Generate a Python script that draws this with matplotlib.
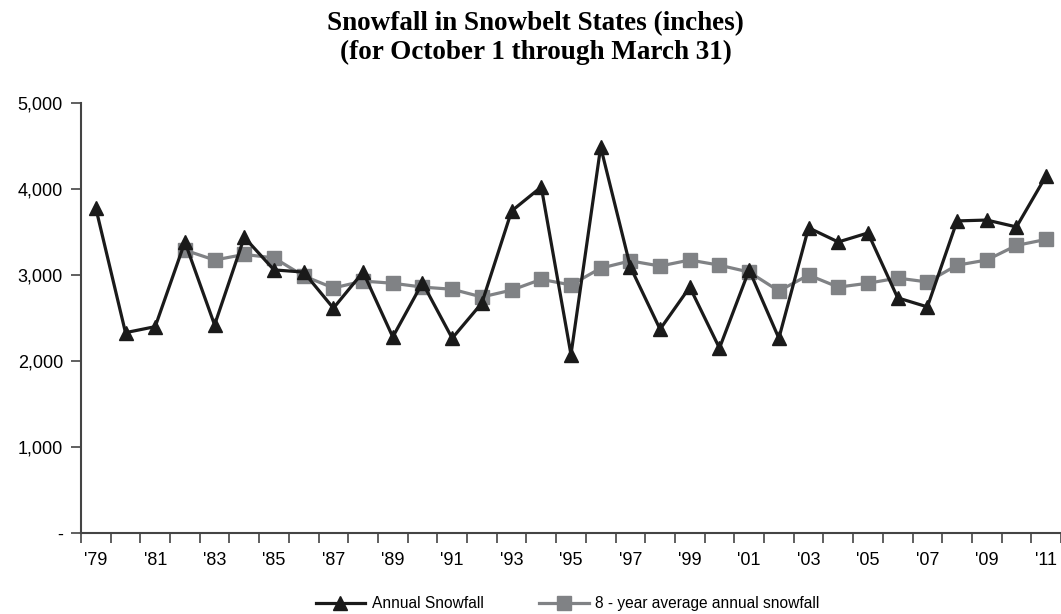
import matplotlib.pyplot as plt
import numpy as np

years = ["'79", "'80", "'81", "'82", "'83", "'84", "'85", "'86", "'87", "'88", "'89",
         "'90", "'91", "'92", "'93", "'94", "'95", "'96", "'97", "'98", "'99", "'00",
         "'01", "'02", "'03", "'04", "'05", "'06", "'07", "'08", "'09", "'10", "'11"]

annual = [3780, 2330, 2400, 3385, 2420, 3440, 3060, 3035, 2615, 3035, 2280,
          2910, 2265, 2675, 3745, 4025, 2075, 4490, 3095, 2370, 2860, 2150,
          3060, 2265, 3550, 3385, 3490, 2735, 2630, 3630, 3640, 3560, 4155]

# 8-year average starts at '82
avg8 = [np.nan, np.nan, np.nan, 3290, 3175, 3240, 3200, 2990, 2850, 2930, 2905,
        2860, 2835, 2745, 2825, 2950, 2885, 3080, 3165, 3105, 3175, 3115,
        3035, 2815, 3000, 2860, 2905, 2965, 2920, 3115, 3175, 3345, 3415]

plt.rcParams['font.family'] = ['Liberation Sans', 'DejaVu Sans']

fig = plt.figure(figsize=(10.61, 6.14), dpi=100)
ax = fig.add_axes([0.0763, 0.132, 0.9237, 0.700])

x = np.arange(len(years))
ax.plot(x, annual, color='#1a1a1a', lw=2.3, marker='^', markersize=10,
        label='Annual Snowfall', zorder=3)
ax.plot(x, avg8, color='#808285', lw=2.3, marker='s', markersize=9.5,
        label='8 - year average annual snowfall', zorder=2)

ax.set_xlim(-0.5, len(years) - 0.5)
ax.set_ylim(0, 5000)

# category axis: ticks on boundaries, labels every other year
ax.set_xticks(np.arange(len(years) + 1) - 0.5)
ax.set_xticklabels([])
ax.set_xticks(x[::2], minor=True)
ax.set_xticklabels(years[::2], minor=True, fontsize=13)
ax.tick_params(axis='x', which='minor', length=0, pad=14)
ax.tick_params(axis='x', which='major', length=7, width=1.2, color='#444444')

yt = [0, 1000, 2000, 3000, 4000, 5000]
ax.set_yticks(yt)
ax.set_yticklabels(['-'] + ['{:,}'.format(v) for v in yt[1:]], fontsize=13)
ax.tick_params(axis='y', length=7, width=1.2, color='#444444', pad=6)

for s in ['top', 'right']:
    ax.spines[s].set_visible(False)
for s in ['left', 'bottom']:
    ax.spines[s].set_color('#444444')
    ax.spines[s].set_linewidth(1.5)

fig.suptitle('Snowfall in Snowbelt States (inches)\n(for October 1 through March 31)',
             fontfamily='Liberation Serif', fontweight='bold', fontsize=19.5,
             x=0.505, y=0.982, va='top', linespacing=1.2)

fig.legend(loc='lower center', ncol=2, frameon=False, fontsize=11.2,
           bbox_to_anchor=(0.535, -0.018), handlelength=3.2, columnspacing=3.6,
           handletextpad=0.4)

fig.savefig('out.png', dpi=100)
